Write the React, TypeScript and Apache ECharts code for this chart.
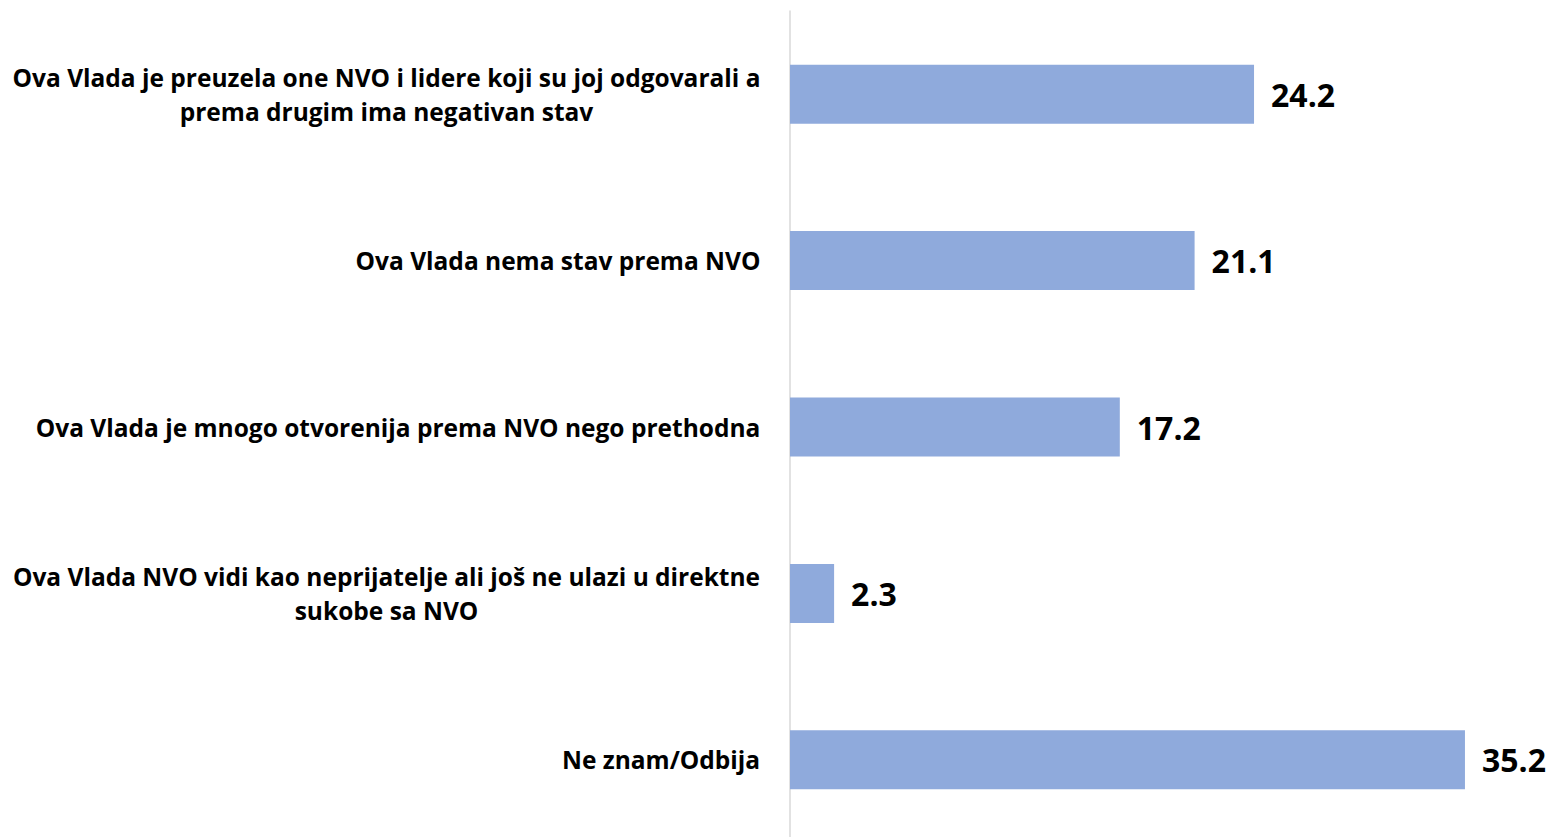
import React, { useEffect, useRef } from "react";
import * as echarts from "echarts";

const categories = [
  "Ova Vlada je preuzela one NVO i lidere koji su joj odgovarali a\nprema drugim ima negativan stav",
  "Ova Vlada nema stav prema NVO",
  "Ova Vlada je mnogo otvorenija prema NVO nego prethodna",
  "Ova Vlada NVO vidi kao neprijatelje ali još ne ulazi u direktne\nsukobe sa NVO",
  "Ne znam/Odbija",
];
const values = [24.2, 21.1, 17.2, 2.3, 35.2];

const FONT = "Open Sans";
const LABEL_SIZE = 24.5;

function measure(text: string, font: string): number {
  const c = document.createElement("canvas");
  const ctx = c.getContext("2d");
  if (!ctx) return text.length * 12;
  ctx.font = font;
  return ctx.measureText(text).width;
}

export default function App() {
  const ref = useRef<HTMLDivElement>(null);
  useEffect(() => {
    if (!ref.current) return;
    const chart = echarts.init(ref.current, undefined, { renderer: "svg" });
    const rich: Record<string, any> = {};
    categories.forEach((c, i) => {
      const lines = c.split("\n");
      const w = Math.max(
        ...lines.map((l) => measure(l, `bold ${LABEL_SIZE}px "${FONT}"`))
      );
      rich["c" + i] = {
        width: Math.ceil(w) + 1,
        align: "center",
        fontFamily: FONT,
        fontWeight: "bold",
        fontSize: LABEL_SIZE,
        lineHeight: 34,
        color: "#000000",
      };
    });
    chart.setOption({
      animation: false,
      grid: { left: 790, width: 771, top: 11, height: 832 },
      xAxis: {
        type: "value",
        min: 0,
        max: 40,
        show: false,
        splitLine: { show: false },
      },
      yAxis: {
        type: "category",
        data: categories,
        inverse: true,
        axisLine: { show: true, lineStyle: { color: "#d9d9d9", width: 1.5 } },
        axisTick: { show: false },
        axisLabel: {
          margin: 29,
          align: "right",
          formatter: (v: string) => {
            const i = categories.indexOf(v);
            return v
              .split("\n")
              .map((l) => `{c${i}|${l}}`)
              .join("\n");
          },
          rich,
        },
      },
      series: [
        {
          type: "bar",
          data: values,
          barWidth: 59,
          itemStyle: { color: "#8FAADC" },
          label: {
            show: true,
            position: "right",
            distance: 17,
            fontFamily: FONT,
            fontWeight: "bold",
            fontSize: 32,
            color: "#000000",
            formatter: (p: any) => p.value.toFixed(1),
          },
        },
      ],
    });
    return () => chart.dispose();
  }, []);
  return (
    <div
      style={{
        position: "absolute",
        left: 0,
        top: 0,
        width: 1557,
        height: 837,
        overflow: "hidden",
      }}
    >
      <div ref={ref} style={{ width: 1557, height: 860 }} />
    </div>
  );
}
